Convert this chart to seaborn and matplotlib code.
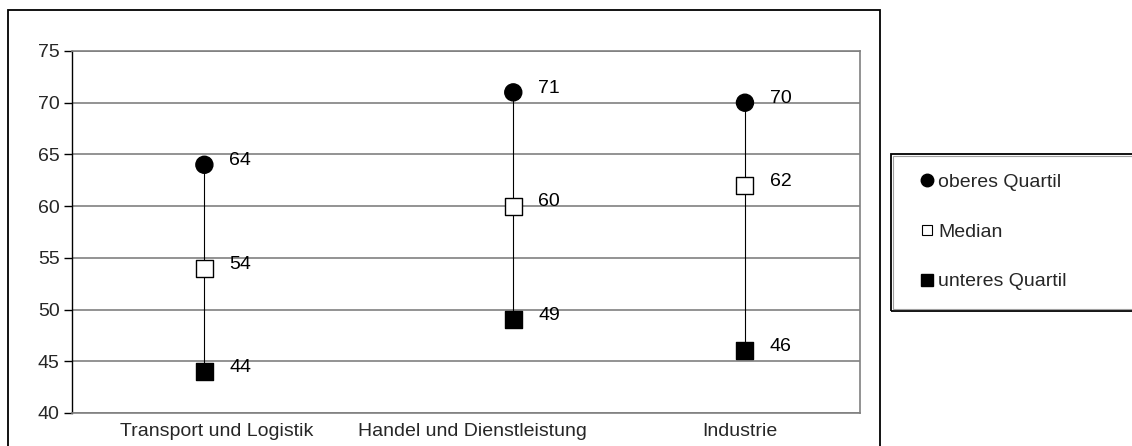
import matplotlib
matplotlib.use("Agg")
import matplotlib.pyplot as plt
import seaborn as sns
import pandas as pd
from matplotlib.lines import Line2D
from matplotlib.patches import Rectangle

categories = ["Transport und Logistik", "Handel und Dienstleistung", "Industrie"]
upper_q = [64, 71, 70]
median = [54, 60, 62]
lower_q = [44, 49, 46]
series_names = ["oberes Quartil", "Median", "unteres Quartil"]
y_ticks = [40, 45, 50, 55, 60, 65, 70, 75]

# horizontal layout (axes fraction)
marker_x = [0.168, 0.560, 0.854]
label_x = [0.184, 0.508, 0.848]

FS = 14

sns.set_theme(style="white")
plt.rcParams["font.family"] = ["Liberation Sans", "DejaVu Sans"]

rows = []
for i, c in enumerate(categories):
    for name, vals in zip(series_names, [upper_q, median, lower_q]):
        rows.append({"category": c, "x": marker_x[i], "value": vals[i], "series": name})
df = pd.DataFrame(rows)

fig = plt.figure(figsize=(11.32, 4.46), dpi=100)
ax = fig.add_axes([72 / 1132, 1 - 413 / 446, (860 - 72) / 1132, (413 - 51) / 446])

# gridlines
for t in y_ticks:
    ax.axhline(t, color="#808080", lw=1.2, zorder=0)

# connecting lines
ax.vlines(marker_x, lower_q, upper_q, color="black", lw=0.8, zorder=1)

sns.scatterplot(
    data=df, x="x", y="value", hue="series", style="series",
    palette={"oberes Quartil": "black", "Median": "white", "unteres Quartil": "black"},
    markers={"oberes Quartil": "o", "Median": "s", "unteres Quartil": "s"},
    s=150, edgecolor="black", linewidth=1.0, legend=False, ax=ax, zorder=3,
)

for i in range(len(categories)):
    for vals in (upper_q, median, lower_q):
        ax.annotate(str(vals[i]), (marker_x[i], vals[i]), xytext=(18, 3),
                    textcoords="offset points", ha="left", va="center",
                    fontsize=FS, color="black", zorder=4)

ax.set_xlim(0, 1)
ax.set_ylim(40, 75)
ax.set_yticks(y_ticks)
ax.set_xticks(label_x)
ax.set_xticklabels(categories)
ax.set_xlabel("")
ax.set_ylabel("")
ax.tick_params(axis="y", direction="out", length=6, width=1, color="black",
               pad=3, labelsize=FS, left=True)
ax.tick_params(axis="x", length=0, pad=7, labelsize=FS)

for side in ["top", "right", "bottom"]:
    ax.spines[side].set_color("#808080")
    ax.spines[side].set_linewidth(1.2)
ax.spines["left"].set_color("black")
ax.spines["left"].set_linewidth(1.0)

# outer chart frame
fig.patches.append(Rectangle((8 / 1132, -0.05), (880 - 8) / 1132, 1 - 10 / 446 + 0.05,
                             transform=fig.transFigure, fill=False,
                             edgecolor="black", lw=1.3, clip_on=False))
# legend frame (double line look)
fig.patches.append(Rectangle((891 / 1132, 1 - 311 / 446), 0.3, (311 - 154) / 446,
                             transform=fig.transFigure, fill=False,
                             edgecolor="black", lw=1.3, clip_on=False))
fig.patches.append(Rectangle((893 / 1132, 1 - 309 / 446), 0.3, (309 - 156) / 446,
                             transform=fig.transFigure, fill=False,
                             edgecolor="#a0a0a0", lw=0.8, clip_on=False))

handles = [
    Line2D([], [], marker="o", color="black", ls="", markersize=9),
    Line2D([], [], marker="s", markerfacecolor="white", markeredgecolor="black",
           ls="", markersize=7, markeredgewidth=0.8),
    Line2D([], [], marker="s", color="black", ls="", markersize=9),
]
fig.legend(handles, series_names, loc="center left",
           bbox_to_anchor=(910 / 1132, 1 - 232 / 446), frameon=False,
           fontsize=FS, labelspacing=1.65, handlelength=0.7, handletextpad=0.25,
           borderpad=0)

fig.savefig("out.png", dpi=100)
